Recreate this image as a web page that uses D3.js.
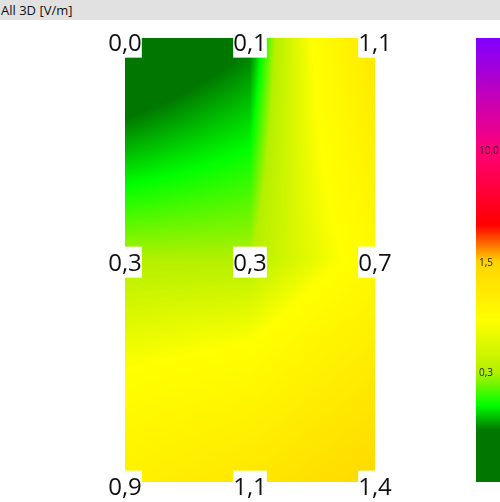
<!DOCTYPE html>
<html><head><meta charset="utf-8">
<script src="https://cdn.jsdelivr.net/npm/d3@7"></script>
<style>
body{margin:0;background:#fff;overflow:hidden;font-family:"Open Sans",sans-serif}
#wrap{position:relative;width:500px;height:502px}
canvas,svg{position:absolute;left:0;top:0}
</style></head><body>
<div id="wrap"><canvas id="cv" width="500" height="502"></canvas><svg id="sv" width="500" height="502"></svg></div>
<script>
// measured field values, rows top->bottom, cols left->right
const rows = [0, 1, 2];
const cols = [0, 1, 2];
const values = [
  [0.0, 0.1, 1.1],
  [0.3, 0.3, 0.7],
  [0.9, 1.1, 1.4]
];
const labels = [
  ['0,0', '0,1', '1,1'],
  ['0,3', '0,3', '0,7'],
  ['0,9', '1,1', '1,4']
];
const stopValues = [0, 0.11, 0.2, 0.3, 0.6, 1.5, 2.6, 10, 40];
const stopColors = ['#007800', '#007800', '#00ff00', '#b4f000', '#ffff00', '#ffd400', '#ff0000', '#ff0078', '#8000ff'];
const legendValues = [0.05, 0.11, 0.2, 0.3, 0.6, 1.5, 2.6, 10, 40];
const legendY = [482, 430, 405, 372, 320, 262, 225, 150, 38];
const legendTicks = [['0,3', 0.3], ['1,5', 1.5], ['10,0', 10]];

const x = d3.scaleLinear().domain([0, 2]).range([125, 375]);
const y = d3.scaleLinear().domain([0, 2]).range([38, 482]);
const color = d3.scaleLinear().domain(stopValues).range(stopColors).clamp(true);
const ly = d3.scaleLinear().domain(legendValues).range(legendY).clamp(true);

// bilinear value lookup
function field(gx, gy) {
  const i = Math.min(1, Math.floor(gy)), j = Math.min(1, Math.floor(gx));
  const fy = gy - i, fx = gx - j;
  const a = values[i][j], b = values[i][j + 1], c = values[i + 1][j], d = values[i + 1][j + 1];
  return a * (1 - fx) * (1 - fy) + b * fx * (1 - fy) + c * (1 - fx) * fy + d * fx * fy;
}

const ctx = document.getElementById('cv').getContext('2d');
for (let px = x(0); px < x(2); px++) {
  for (let py = y(0); py < y(2); py++) {
    ctx.fillStyle = color(field(x.invert(px + 0.5), y.invert(py + 0.5)));
    ctx.fillRect(px, py, 1, 1);
  }
}
// legend bar
for (let py = 38; py < 482; py++) {
  ctx.fillStyle = color(ly.invert(py + 0.5));
  ctx.fillRect(476, py, 30, 1);
}

const svg = d3.select('#sv');
svg.append('rect').attr('width', 500).attr('height', 20).attr('fill', '#e1e1e1');
svg.append('text').attr('x', 1).attr('y', 15).attr('font-size', 13).attr('fill', '#111').text('All 3D [V/m]');

rows.forEach(r => cols.forEach(c => {
  const g = svg.append('g').attr('transform', `translate(${x(c)},${y(r) + (r === 1 ? 2 : 4)})`);
  const t = g.append('text').attr('text-anchor', 'middle').attr('dy', '0.36em')
    .attr('font-size', 24).attr('fill', '#111').text(labels[r][c]);
  const bb = t.node().getBBox();
  g.insert('rect', 'text').attr('x', bb.x).attr('y', bb.y + 2).attr('width', bb.width).attr('height', bb.height - 2).attr('fill', '#fff');
}));

legendTicks.forEach(([s, v]) => {
  svg.append('text').attr('x', 479).attr('y', ly(v) + 4).attr('font-size', 10).attr('fill', '#222').text(s);
});
</script></body></html>
